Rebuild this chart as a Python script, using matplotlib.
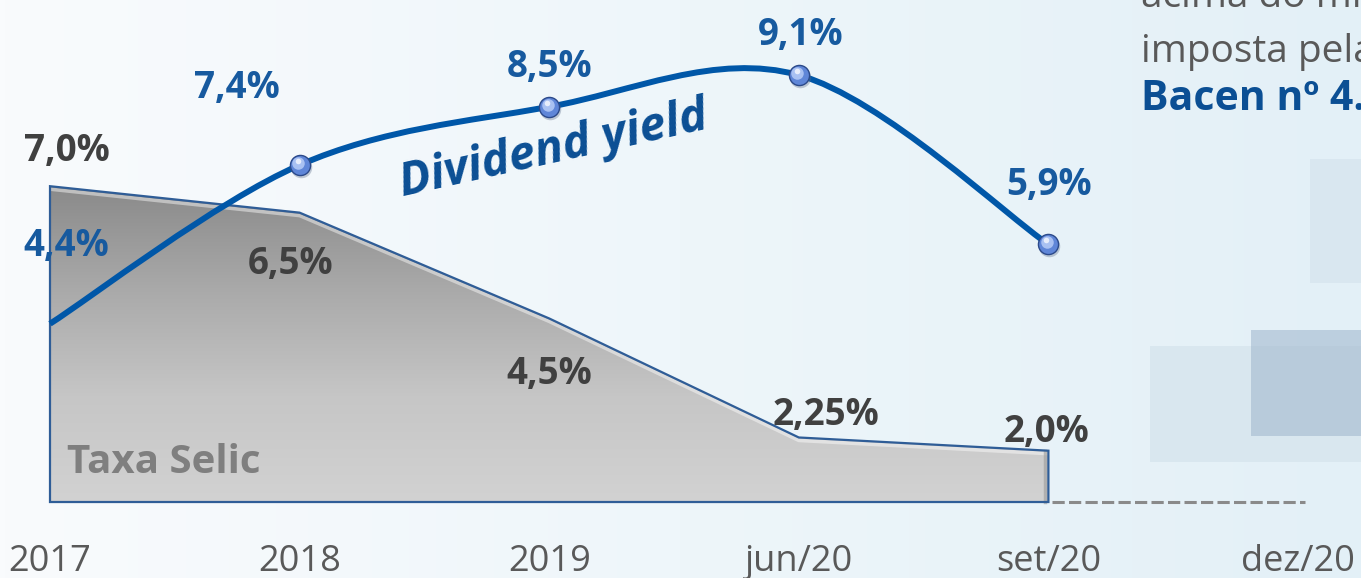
import numpy as np
import matplotlib
matplotlib.use("Agg")
import matplotlib.pyplot as plt
from matplotlib.path import Path
from matplotlib.patches import PathPatch, Polygon, Rectangle
from matplotlib.colors import LinearSegmentedColormap
import matplotlib.transforms as mtransforms

# ---------------- data ----------------
categories = ["2017", "2018", "2019", "jun/20", "set/20", "dez/20"]
selic = [7.0, 6.5, 4.5, 2.25, 2.0]
selic_labels = ["7,0%", "6,5%", "4,5%", "2,25%", "2,0%"]
dividend_yield = [4.4, 7.4, 8.5, 9.1, 5.9]
dy_labels = ["4,4%", "7,4%", "8,5%", "9,1%", "5,9%"]

# label offsets in pixels (dx, dy) relative to the data point
selic_offsets = [(17, 25), (-9, -61.5), (0, -65.5), (27, 12.5), (-2, 9)]
dy_offsets = [(16, 68), (-63, 67.5), (0, 30), (2, 30), (1, 49)]

W, H = 1361, 578
DPI = 100
BASE = 1.03

FONT = ["Open Sans", "DejaVu Sans"]
plt.rcParams["font.family"] = FONT

fig = plt.figure(figsize=(W / DPI, H / DPI), dpi=DPI)
ax = fig.add_axes([0, 0, 1, 1])
ax.set_xlim(-50 / 249.6, (W - 50) / 249.6)
ax.set_ylim((556.5 - H) / 52.9, 556.5 / 52.9)
ax.axis("off")

# background gradient
grad = np.linspace(0, 1, 256)[None, :]
bg_cmap = LinearSegmentedColormap.from_list("bg", ["#f9fbfd", "#eef6fa", "#e3f0f7"])
ax.imshow(grad, extent=[0, 1, 0, 1], transform=ax.transAxes, cmap=bg_cmap,
          aspect="auto", zorder=0)

# decorative rectangles (figure-pixel geometry)
def px_rect(x0, y0, x1, y1, color, alpha=1.0, z=0.5):
    r = Rectangle((x0 / W, 1 - y1 / H), (x1 - x0) / W, (y1 - y0) / H,
                  transform=ax.transAxes, facecolor=color, edgecolor="none",
                  alpha=alpha, zorder=z)
    ax.add_patch(r)

px_rect(1310, 159, 1370, 283, "#d9e7f0")
px_rect(1150, 346, 1370, 462, "#d9e7ef")
px_rect(1251, 330, 1370, 436, "#9db5cc", alpha=0.55, z=0.6)

# side text (cut at the right edge, as in the original slide)
ax.text(1141 / W, 1 - 7 / H, "acima do mínimo", transform=ax.transAxes,
        fontsize=28, color="#595959", ha="left", va="baseline", clip_on=True)
ax.text(1141 / W, 1 - 62 / H, "imposta pela", transform=ax.transAxes,
        fontsize=28, color="#595959", ha="left", va="baseline", clip_on=True)
ax.text(1141 / W, 1 - 110 / H, "Bacen nº 4.820", transform=ax.transAxes,
        fontsize=29.5, color="#0b4f94", fontweight="bold", ha="left",
        va="baseline", clip_on=True)

# ---------------- Selic area ----------------
xs = np.arange(len(selic))
verts = [(0, BASE)] + list(zip(xs, selic)) + [(xs[-1], BASE), (0, BASE)]
poly = Polygon(verts, closed=True, facecolor="none", edgecolor="none")
ax.add_patch(poly)
area_cmap = LinearSegmentedColormap.from_list("ar", ["#d2d2d2", "#c6c6c6", "#aaaaaa", "#8a8a8a"])
vgrad = np.linspace(0, 1, 256)[:, None]
im = ax.imshow(vgrad, extent=[0, xs[-1], BASE, max(selic)], origin="lower",
               cmap=area_cmap, aspect="auto", zorder=2)
im.set_clip_path(poly)

# bevel highlight along the top edge
hl = mtransforms.offset_copy(ax.transData, fig=fig, x=0, y=-3, units="dots")
ax.plot(xs, selic, color="white", alpha=0.45, lw=2.5, transform=hl, zorder=2.5,
        solid_joinstyle="round")
sh = mtransforms.offset_copy(ax.transData, fig=fig, x=-3, y=0, units="dots")
ax.plot([xs[-1], xs[-1]], [BASE, selic[-1]], color="#9a9a9a", alpha=0.6, lw=2.5,
        transform=sh, zorder=2.5)

outline = Polygon(verts, closed=True, facecolor="none", edgecolor="#2f5d97",
                  lw=1.6, zorder=3, joinstyle="miter")
ax.add_patch(outline)

# dashed baseline continuation
ax.plot([xs[-1] + 0.015, 5.03], [BASE, BASE], color="#8a8a8a", lw=2.2,
        linestyle=(0, (4, 1.4)), zorder=3)

ax.text(67 / W, 1 - 473 / H, "Taxa Selic", transform=ax.transAxes, fontsize=29,
        fontweight="bold", color="#7f7f7f", ha="left", va="baseline", zorder=4)

# ---------------- Dividend yield smooth line ----------------
P = np.column_stack([xs, dividend_yield]).astype(float)
n = len(P)
codes = [Path.MOVETO]
pverts = [tuple(P[0])]
for i in range(n - 1):
    p0 = P[i - 1] if i > 0 else P[i]
    p1 = P[i]
    p2 = P[i + 1]
    p3 = P[i + 2] if i + 2 < n else P[i + 1]
    c1 = p1 + (p2 - p0) / 6.0
    c2 = p2 - (p3 - p1) / 6.0
    pverts += [tuple(c1), tuple(c2), tuple(p2)]
    codes += [Path.CURVE4, Path.CURVE4, Path.CURVE4]
curve = PathPatch(Path(pverts, codes), facecolor="none", edgecolor="#0057a8",
                  lw=4.3, zorder=5, capstyle="butt")
ax.add_patch(curve)

# sphere-like markers (no marker on the first point)
mx, my = xs[1:], dividend_yield[1:]
shadow_t = mtransforms.offset_copy(ax.transData, fig=fig, x=1, y=-2, units="dots")
ax.plot(mx, my, "o", ms=15.5, color="#5b6d8a", alpha=0.35,
        transform=shadow_t, zorder=5.5, markeredgewidth=0)
ax.plot(mx, my, "o", ms=14.5, markerfacecolor="#5f86d8",
        markeredgecolor="#2c4a8a", markeredgewidth=1.0, zorder=6)
hl_t = mtransforms.offset_copy(ax.transData, fig=fig, x=-1.5, y=2, units="dots")
ax.plot(mx, my, "o", ms=9, markerfacecolor="#a9c1f2",
        markeredgewidth=0, zorder=6.5, transform=hl_t)
hl2 = mtransforms.offset_copy(ax.transData, fig=fig, x=-2, y=4, units="dots")
ax.plot(mx, my, "o", ms=4, markerfacecolor="#eef3fd",
        markeredgewidth=0, zorder=6.6, transform=hl2, alpha=0.9)

ax.text(553 / W, 1 - 150 / H, "Dividend yield", transform=ax.transAxes,
        fontsize=34, fontweight="bold", fontstyle="italic", color="#0b4f94",
        rotation=12.5, ha="center", va="center", rotation_mode="anchor", zorder=7)

# ---------------- value labels ----------------
for x, v, lab, (dx, dy) in zip(xs, selic, selic_labels, selic_offsets):
    ax.annotate(lab, (x, v), xytext=(dx, dy), textcoords="offset pixels",
                ha="center", va="baseline", fontsize=26.5, fontweight="bold",
                color="#404040", zorder=8)
for x, v, lab, (dx, dy) in zip(xs, dividend_yield, dy_labels, dy_offsets):
    ax.annotate(lab, (x, v), xytext=(dx, dy), textcoords="offset pixels",
                ha="center", va="baseline", fontsize=26.5, fontweight="bold",
                color="#175a9f", zorder=8)

# category labels
for i, c in enumerate(categories):
    ax.annotate(c, (i, 0), xytext=(0, -14.5), textcoords="offset pixels",
                ha="center", va="baseline", fontsize=26, color="#595959", zorder=8)

fig.savefig("out.png", dpi=DPI)
